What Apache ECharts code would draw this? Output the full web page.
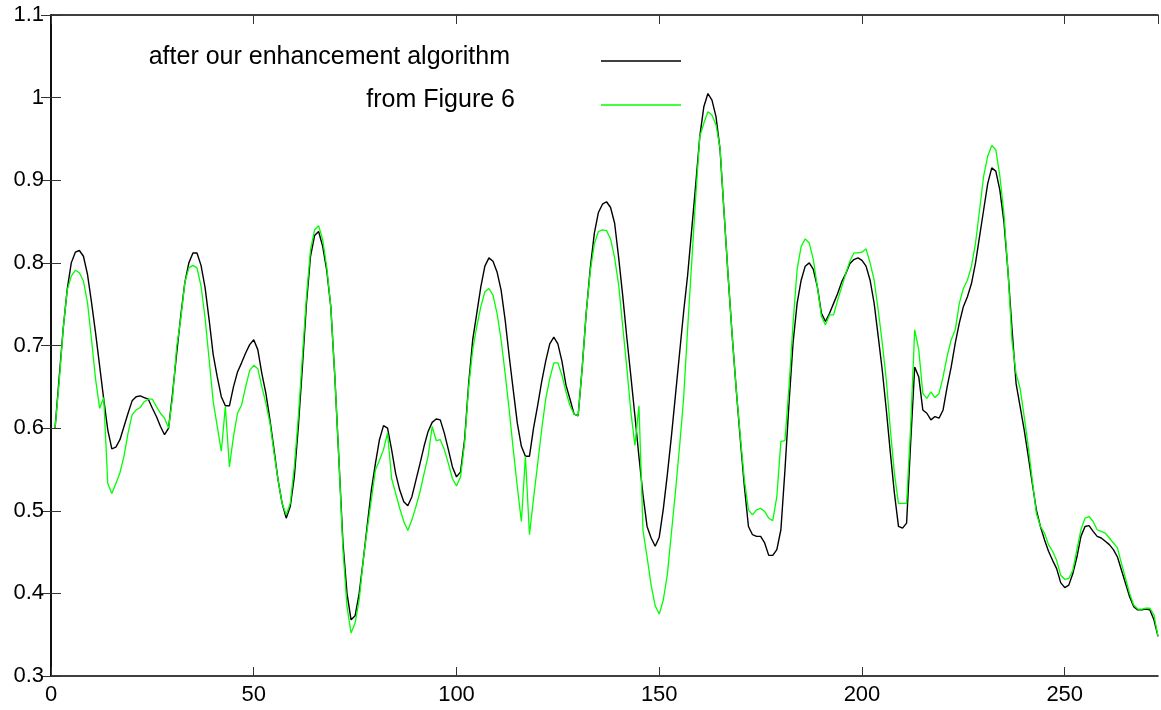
<!DOCTYPE html>
<html>
<head>
<meta charset="utf-8">
<script src="https://cdn.jsdelivr.net/npm/echarts@6/dist/echarts.min.js"></script>
<style>
html,body{margin:0;padding:0;background:#fff;}
#c{width:1161px;height:710px;}
</style>
</head>
<body>
<div id="c"></div>
<script>
// ---- data ----
const seriesNames = ['after our enhancement algorithm', 'from Figure 6'];
const xStart = 1; // first sample index
const xTicks = [0, 50, 100, 150, 200, 250];
const yTicks = [0.3, 0.4, 0.5, 0.6, 0.7, 0.8, 0.9, 1.0, 1.1];

const enhanced = [
0.600,0.660,0.720,0.768,0.800,0.813,0.815,0.808,0.786,0.752,
0.715,0.675,0.635,0.598,0.575,0.577,0.586,0.602,0.618,0.633,
0.638,0.639,0.637,0.635,0.624,0.614,0.602,0.592,0.600,0.643,
0.691,0.736,0.776,0.800,0.812,0.812,0.797,0.770,0.731,0.689,
0.662,0.638,0.627,0.627,0.650,0.668,0.679,0.691,0.701,0.707,
0.695,0.666,0.642,0.610,0.574,0.537,0.509,0.491,0.505,0.541,
0.602,0.674,0.751,0.808,0.833,0.838,0.820,0.791,0.747,0.662,
0.562,0.461,0.400,0.368,0.373,0.400,0.440,0.483,0.525,0.557,
0.586,0.603,0.600,0.574,0.545,0.525,0.511,0.506,0.517,0.537,
0.557,0.578,0.596,0.607,0.611,0.610,0.594,0.574,0.553,0.541,
0.547,0.586,0.654,0.707,0.739,0.771,0.796,0.806,0.802,0.789,
0.767,0.731,0.687,0.646,0.606,0.578,0.566,0.566,0.600,0.627,
0.656,0.681,0.702,0.710,0.702,0.681,0.652,0.635,0.617,0.615,
0.673,0.740,0.794,0.836,0.861,0.871,0.874,0.867,0.848,0.806,
0.760,0.710,0.663,0.615,0.565,0.519,0.481,0.467,0.457,0.468,
0.502,0.544,0.590,0.640,0.690,0.740,0.785,0.840,0.895,0.953,
0.989,1.005,0.997,0.977,0.937,0.860,0.783,0.711,0.646,0.586,
0.529,0.481,0.471,0.469,0.469,0.461,0.446,0.446,0.453,0.477,
0.549,0.630,0.703,0.751,0.779,0.796,0.800,0.792,0.771,0.739,
0.729,0.739,0.751,0.763,0.777,0.787,0.799,0.804,0.806,0.803,
0.796,0.779,0.751,0.711,0.670,0.622,0.570,0.521,0.481,0.479,
0.485,0.582,0.674,0.662,0.622,0.618,0.610,0.614,0.612,0.622,
0.650,0.674,0.703,0.727,0.747,0.759,0.775,0.800,0.832,0.864,
0.896,0.915,0.911,0.888,0.850,0.790,0.720,0.654,0.626,0.598,
0.566,0.533,0.501,0.481,0.465,0.451,0.440,0.430,0.413,0.407,
0.410,0.424,0.444,0.469,0.481,0.482,0.475,0.469,0.467,0.463,
0.459,0.453,0.444,0.428,0.412,0.396,0.384,0.380,0.380,0.381,
0.380,0.368,0.348
];

const figure6 = [
0.600,0.655,0.720,0.767,0.784,0.791,0.788,0.778,0.752,0.707,
0.659,0.624,0.637,0.533,0.521,0.533,0.546,0.566,0.594,0.616,
0.622,0.625,0.632,0.635,0.635,0.626,0.618,0.612,0.600,0.638,
0.699,0.732,0.776,0.794,0.797,0.794,0.772,0.733,0.683,0.632,
0.602,0.572,0.626,0.553,0.590,0.618,0.628,0.650,0.670,0.676,
0.672,0.650,0.630,0.606,0.570,0.537,0.509,0.495,0.509,0.553,
0.614,0.687,0.759,0.816,0.840,0.845,0.828,0.795,0.747,0.662,
0.562,0.453,0.384,0.352,0.364,0.392,0.440,0.478,0.513,0.549,
0.561,0.574,0.594,0.539,0.521,0.503,0.487,0.476,0.489,0.505,
0.523,0.545,0.566,0.602,0.585,0.586,0.574,0.557,0.539,0.530,
0.541,0.582,0.650,0.695,0.723,0.747,0.765,0.769,0.761,0.739,
0.707,0.666,0.622,0.574,0.529,0.487,0.566,0.471,0.515,0.556,
0.598,0.635,0.660,0.679,0.679,0.664,0.644,0.627,0.617,0.615,
0.673,0.740,0.790,0.823,0.838,0.840,0.839,0.829,0.806,0.773,
0.723,0.673,0.620,0.579,0.627,0.476,0.444,0.410,0.385,0.375,
0.392,0.423,0.473,0.523,0.577,0.635,0.720,0.800,0.880,0.953,
0.969,0.983,0.979,0.967,0.939,0.860,0.783,0.711,0.646,0.590,
0.537,0.501,0.495,0.501,0.503,0.499,0.491,0.488,0.517,0.584,
0.585,0.650,0.727,0.792,0.820,0.829,0.824,0.804,0.771,0.735,
0.725,0.737,0.737,0.755,0.771,0.787,0.802,0.812,0.812,0.813,
0.817,0.800,0.779,0.743,0.703,0.658,0.598,0.545,0.509,0.509,
0.509,0.602,0.719,0.695,0.642,0.636,0.644,0.637,0.642,0.662,
0.687,0.707,0.719,0.751,0.769,0.779,0.796,0.824,0.864,0.905,
0.929,0.942,0.937,0.905,0.860,0.790,0.705,0.666,0.648,0.614,
0.578,0.537,0.497,0.481,0.473,0.459,0.451,0.440,0.422,0.417,
0.418,0.428,0.453,0.477,0.491,0.493,0.487,0.477,0.475,0.473,
0.467,0.461,0.455,0.436,0.418,0.400,0.386,0.381,0.381,0.382,
0.382,0.374,0.348
];

// ---- chart ----
const FONT = '"Liberation Sans", Arial, Helvetica, sans-serif';
const colors = ['#000000', '#00ff00'];
const toPairs = arr => arr.map((v, i) => [xStart + i, v]);

const chart = echarts.init(document.getElementById('c'), null, {renderer: 'canvas'});

const xMin = xTicks[0], xMax = 273;
const yMin = yTicks[0], yMax = yTicks[yTicks.length - 1];

const axisLine = {show: true, lineStyle: {color: '#000', width: 1.5}};
const tick = len => ({show: true, inside: true, length: len, lineStyle: {color: '#333', width: 1}});

const option = {
  backgroundColor: '#ffffff',
  animation: false,
  grid: {left: 51, right: 3, top: 15, bottom: 34, outerBoundsMode: 'none', containLabel: false},
  xAxis: [
    {type: 'value', position: 'bottom', min: xMin, max: xMax, interval: 50,
     axisLine: axisLine, axisTick: tick(9), splitLine: {show: false},
     axisLabel: {show: true, showMaxLabel: false, margin: 8, color: '#000', fontSize: 22, fontFamily: FONT}},
    {type: 'value', position: 'top', min: xMin, max: xMax, interval: 50,
     axisLine: axisLine, axisTick: tick(9), splitLine: {show: false},
     axisLabel: {show: false}}
  ],
  yAxis: [
    {type: 'value', position: 'left', min: yMin, max: yMax, interval: 0.1,
     axisLine: axisLine, axisTick: tick(10), splitLine: {show: false},
     axisLabel: {show: true, margin: 7, color: '#000', fontSize: 22, fontFamily: FONT,
       formatter: v => String(+v.toFixed(1))}},
    {type: 'value', position: 'right', min: yMin, max: yMax, interval: 0.1,
     axisLine: axisLine, axisTick: tick(10), splitLine: {show: false},
     axisLabel: {show: false}}
  ],
  series: [
    {name: seriesNames[0], type: 'line', data: toPairs(enhanced), showSymbol: false, symbol: 'none',
     lineStyle: {color: colors[0], width: 1.4}, itemStyle: {color: colors[0]}, z: 2},
    {name: seriesNames[1], type: 'line', data: toPairs(figure6), showSymbol: false, symbol: 'none',
     lineStyle: {color: colors[1], width: 1.3}, itemStyle: {color: colors[1]}, z: 3}
  ],
  graphic: seriesNames.flatMap((name, i) => {
    const textRight = [510, 515][i];
    const textY = [57, 100][i];
    const lineY = [61, 105][i];
    return [
      {type: 'text', x: textRight, y: textY,
       style: {text: name, fill: '#000', font: '25px ' + FONT, textAlign: 'right', textVerticalAlign: 'middle'}},
      {type: 'line', shape: {x1: 601, y1: lineY, x2: 681, y2: lineY},
       style: {stroke: colors[i], lineWidth: 1.3}}
    ];
  })
};
chart.setOption(option);
</script>
</body>
</html>
